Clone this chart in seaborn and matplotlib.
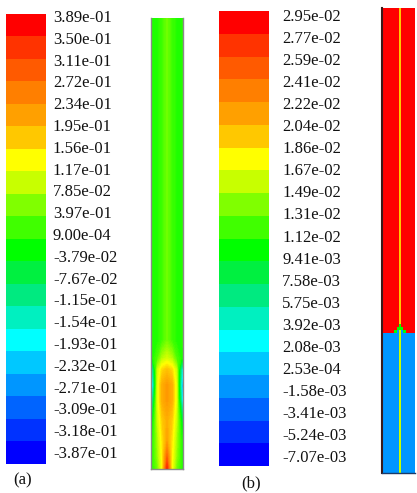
import numpy as np
import matplotlib
matplotlib.use("Agg")
import matplotlib.pyplot as plt
from matplotlib.colors import ListedColormap, LinearSegmentedColormap, BoundaryNorm
import seaborn as sns

sns.set_style("white")
plt.rcParams['font.family'] = ['Liberation Serif', 'DejaVu Serif']

# ---------------- data ----------------
band_colors_top = ['#FF0000', '#FF3300', '#FF5A00', '#FF7F00', '#FFA000', '#FFC800',
                   '#FFFF00', '#C8FF00', '#80FF00', '#40FF00', '#00FF00', '#00F040',
                   '#00EA80', '#00F0C0', '#00FFFF', '#00C8FF', '#0096FF', '#0064FF',
                   '#0032FF', '#0000FF']

labels_a = ['3.89e-01', '3.50e-01', '3.11e-01', '2.72e-01', '2.34e-01', '1.95e-01',
            '1.56e-01', '1.17e-01', '7.85e-02', '3.97e-01', '9.00e-04', '-3.79e-02',
            '-7.67e-02', '-1.15e-01', '-1.54e-01', '-1.93e-01', '-2.32e-01', '-2.71e-01',
            '-3.09e-01', '-3.18e-01', '-3.87e-01']
labels_b = ['2.95e-02', '2.77e-02', '2.59e-02', '2.41e-02', '2.22e-02', '2.04e-02',
            '1.86e-02', '1.67e-02', '1.49e-02', '1.31e-02', '1.12e-02', '9.41e-03',
            '7.58e-03', '5.75e-03', '3.92e-03', '2.08e-03', '2.53e-04', '-1.58e-03',
            '-3.41e-03', '-5.24e-03', '-7.07e-03']
range_a = (-0.387, 0.389)
range_b = (-7.07e-03, 2.95e-02)

# field (a): columns across the pipe (fraction of width), rows along it (fraction from top)
xa = [0.0, 0.06, 0.2, 0.35, 0.5, 0.65, 0.8, 0.94, 1.0]
ya = [0.0, 0.40, 0.714, 0.754, 0.780, 0.814, 0.847, 0.891, 0.936, 0.969, 1.0]
za = [
    [0.01, 0.00, 0.00, 0.02, 0.05, 0.02, 0.00, 0.00, 0.01],
    [0.01, 0.00, 0.00, 0.02, 0.05, 0.02, 0.00, 0.00, 0.01],
    [0.01, 0.00, 0.00, 0.02, 0.05, 0.02, 0.00, 0.00, 0.01],
    [0.00, 0.00, 0.03, 0.09, 0.11, 0.09, 0.03, 0.00, 0.00],
    [-0.22, -0.12, 0.10, 0.17, 0.19, 0.17, 0.10, -0.12, -0.20],
    [-0.28, -0.18, 0.12, 0.21, 0.23, 0.21, 0.12, -0.16, -0.28],
    [-0.20, -0.10, 0.12, 0.21, 0.23, 0.21, 0.12, -0.12, -0.24],
    [-0.05, -0.02, 0.10, 0.18, 0.21, 0.18, 0.10, -0.02, -0.08],
    [0.00, 0.01, 0.08, 0.16, 0.22, 0.16, 0.08, 0.01, 0.00],
    [0.00, 0.01, 0.07, 0.15, 0.28, 0.15, 0.07, 0.01, 0.00],
    [0.00, 0.01, 0.05, 0.14, 0.36, 0.14, 0.05, 0.01, 0.00],
]

# field (b): cell edges across / along, and cell values
xb_edges = [0.0, 0.242, 0.364, 0.455, 0.515, 0.576, 0.636, 0.727, 0.848, 1.0]
yb_edges = [0.0, 0.680, 0.686, 0.692, 0.699, 0.705, 1.0]
R, B, L, l, G = 0.0286, -0.0007, 0.0195, 0.0158, 0.011
zb = [
    [R, R, R, R, L, R, R, R, R],
    [R, R, R, R, G, R, R, R, R],
    [R, R, R, G, G, G, R, R, R],
    [R, R, G, B, l, B, G, R, R],
    [B, B, B, B, l, B, B, B, B],
    [B, B, B, B, l, B, B, B, B],
]

# ---------------- layout ----------------
W, H = 417, 493
fig = plt.figure(figsize=(W / 100, H / 100), dpi=100)


def ax_px(l, t, r, b):
    return fig.add_axes([l / W, 1 - b / H, (r - l) / W, (b - t) / H])


band_cmap = ListedColormap(band_colors_top[::-1])
smooth_cmap = LinearSegmentedColormap.from_list('fl', band_colors_top[::-1])


def legend_bar(l, t, r, b, labels, lab_top, lab_bot, pad):
    ax = ax_px(l, t, r, b)
    sns.heatmap(np.arange(20).reshape(20, 1), cmap=ListedColormap(band_colors_top),
                vmin=-0.5, vmax=19.5, cbar=False, xticklabels=False, yticklabels=False, ax=ax)
    n = len(labels)
    pos = [((lab_top + (lab_bot - lab_top) * i / (n - 1)) - t) / (b - t) * 20 for i in range(n)]
    ax.set_yticks(pos)
    ax.set_yticklabels(labels, rotation=0, fontsize=12, color='#111111')
    ax.yaxis.tick_right()
    ax.tick_params(axis='y', length=0, pad=pad)
    for s in ax.spines.values():
        s.set_visible(False)
    return ax


legend_bar(6, 13.7, 46, 464, labels_a, 16, 452, 5)
legend_bar(219, 11, 269, 466, labels_b, 15, 456, 9.4)

# contour (a)
axa = ax_px(151, 18, 183, 469)
levels_a = np.linspace(range_a[0], range_a[1], 161)
axa.contourf(xa, ya, np.array(za), levels=levels_a, cmap=smooth_cmap, extend='both',
             antialiased=False)
axa.set_xlim(0, 1)
axa.set_ylim(1, 0)
axa.set_xticks([])
axa.set_yticks([])
for s in axa.spines.values():
    s.set_color('#8a8a8a')
    s.set_linewidth(1.0)
axa.spines['top'].set_visible(False)

# contour (b)
axb = ax_px(382, 8, 415, 473)
norm_b = BoundaryNorm(np.linspace(range_b[0], range_b[1], 21), 20)
axb.pcolormesh(xb_edges, yb_edges, np.array(zb), cmap=band_cmap, norm=norm_b, shading='flat')
axb.set_xlim(0, 1)
axb.set_ylim(1, 0)
axb.set_xticks([])
axb.set_yticks([])
for s in axb.spines.values():
    s.set_visible(False)
axb.spines['left'].set_visible(True)
axb.spines['left'].set_color('#3a1a1a')
axb.spines['left'].set_linewidth(1.5)
axb.spines['bottom'].set_visible(True)
axb.spines['bottom'].set_color('#1a3a6a')
axb.spines['bottom'].set_linewidth(1.0)

fig.text(23 / W, 1 - 480 / H, '(a)', ha='center', va='center', fontsize=12, color='#111111')
fig.text(251 / W, 1 - 483 / H, '(b)', ha='center', va='center', fontsize=12, color='#111111')

fig.savefig('out.png', dpi=100)
